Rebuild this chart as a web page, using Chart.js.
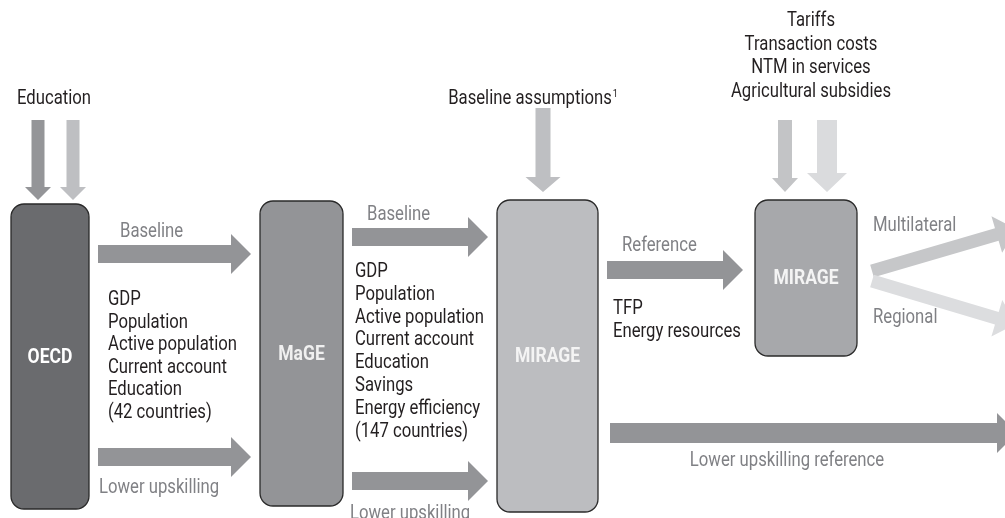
<!DOCTYPE html>
<html>
<head>
<meta charset="utf-8">
<script src="https://cdn.jsdelivr.net/npm/chart.js@4/dist/chart.umd.min.js"></script>
<style>
  html, body { margin: 0; padding: 0; background: #fff; }
  #wrap { position: relative; width: 1005px; height: 518px; }
</style>
</head>
<body>
<div id="wrap"><canvas id="flow-chart"></canvas></div>
<script>
// models (boxes) of the diagram
var models = ['OECD', 'MaGE', 'MIRAGE', 'MIRAGE'];

// inputs coming from the top
var educationInput = 'Education';
var baselineInput = 'Baseline assumptions';
var policyInputs = ['Tariffs', 'Transaction costs', 'NTM in services', 'Agricultural subsidies'];

// variables passed along the arrows
var oecdOutputs = ['GDP', 'Population', 'Active population', 'Current account', 'Education', '(42 countries)'];
var mageOutputs = ['GDP', 'Population', 'Active population', 'Current account', 'Education', 'Savings', 'Energy efficiency', '(147 countries)'];
var mirageOutputs = ['TFP', 'Energy resources'];

// arrow labels
var flowLabels = ['Baseline', 'Lower upskilling', 'Baseline', 'Lower upskilling', 'Reference', 'Multilateral', 'Regional', 'Lower upskilling reference'];

var FONT = 'Roboto, "Liberation Sans", sans-serif';

// layout, in scale units (x: 0..1005, y: 0..518 from top)
var boxes = [
    {x0: 11, x1: 89, y0: 204, y1: 509, fill: '#6a6b6e', text: '#ffffff'},
    {x0: 260, x1: 343, y0: 201, y1: 506, fill: '#939497', text: '#f0f0f0'},
    {x0: 497, x1: 598, y0: 200, y1: 512, fill: '#bcbdc0', text: '#f4f4f4'},
    {x0: 755, x1: 857, y0: 200, y1: 356, fill: '#a7a8ab', text: '#f4f4f4'}
];

var arrows = [
    // [x1, y1, x2, y2, shaft, headWidth, headLength, colour]
    [38, 120, 38, 200, 13, 26, 13, '#949598'],
    [73, 120, 73, 200, 13, 26, 13, '#bebfc2'],
    [543, 108, 543, 192, 15, 35, 15, '#bebfc2'],
    [785, 120, 785, 192, 14, 26, 14, '#c3c4c6'],
    [827, 120, 827, 192, 20, 40, 19, '#dadbdd'],
    [98, 254, 251, 254, 18, 40, 20, '#939497'],
    [98, 457, 251, 457, 18, 40, 20, '#939497'],
    [352, 237, 488, 237, 18, 40, 20, '#939497'],
    [352, 481, 488, 481, 18, 40, 20, '#939497'],
    [607, 270, 743, 270, 18, 40, 20, '#939497'],
    [610, 433, 1017, 433, 20, 40, 20, '#939497'],
    [872, 271, 1016, 229, 13, 38, 20, '#c6c7c9'],
    [872, 281, 1016, 324, 13, 38, 20, '#dcdddf']
];

var flowLabelPos = [
    [120, 232, 'left'], [99, 488, 'left'], [367, 215, 'left'], [350, 514, 'left'],
    [622, 246, 'left'], [873, 226, 'left'], [873, 318, 'left'], [787, 461, 'center']
];

var diagramPlugin = {
    id: 'diagram',
    afterDatasetsDraw: function(chart) {
        var ctx = chart.ctx;
        var sx = chart.scales.x, sy = chart.scales.y;
        var X = function(v){ return sx.getPixelForValue(v); };
        var Y = function(v){ return sy.getPixelForValue(v); };

        ctx.save();

        // arrows
        arrows.forEach(function(a){
            var x1 = X(a[0]), y1 = Y(a[1]), x2 = X(a[2]), y2 = Y(a[3]);
            var dx = x2 - x1, dy = y2 - y1, len = Math.sqrt(dx*dx + dy*dy);
            var ux = dx/len, uy = dy/len, nx = -uy, ny = ux;
            var s = a[4]/2, h = a[5]/2, hl = a[6];
            var bx = x2 - ux*hl, by = y2 - uy*hl;
            ctx.beginPath();
            ctx.moveTo(x1 + nx*s, y1 + ny*s);
            ctx.lineTo(bx + nx*s, by + ny*s);
            ctx.lineTo(bx + nx*h, by + ny*h);
            ctx.lineTo(x2, y2);
            ctx.lineTo(bx - nx*h, by - ny*h);
            ctx.lineTo(bx - nx*s, by - ny*s);
            ctx.lineTo(x1 - nx*s, y1 - ny*s);
            ctx.closePath();
            ctx.fillStyle = a[7];
            ctx.fill();
        });

        // condensed text: squeeze the font horizontally
        ctx.font = '20px ' + FONT;
        var k = 129 / ctx.measureText('Active population').width;
        function text(t, x, y, align) {
            ctx.save();
            ctx.translate(x, y);
            ctx.scale(k, 1);
            ctx.textAlign = align;
            ctx.textBaseline = 'middle';
            ctx.fillText(t, 0, 0);
            ctx.restore();
        }

        // boxes
        boxes.forEach(function(b, i){
            var x0 = X(b.x0), x1 = X(b.x1), y0 = Y(b.y0), y1 = Y(b.y1);
            ctx.beginPath();
            ctx.roundRect(x0, y0, x1 - x0, y1 - y0, 13);
            ctx.fillStyle = b.fill;
            ctx.fill();
            ctx.lineWidth = 1.3;
            ctx.strokeStyle = '#2a2a2a';
            ctx.stroke();
            ctx.fillStyle = b.text;
            ctx.font = 'bold 21px ' + FONT;
            text(models[i], (x0 + x1)/2, (y0 + y1)/2 + 1, 'center');
        });

        // black texts
        ctx.fillStyle = '#231f20';
        ctx.font = '20px ' + FONT;
        text(educationInput, X(54), Y(99), 'center');
        policyInputs.forEach(function(t, i){ text(t, X(811), Y(21 + i*23.5), 'center'); });
        var bw = ctx.measureText(baselineInput).width * k;
        text(baselineInput, X(530), Y(99), 'center');
        ctx.font = '11px ' + FONT;
        text('1', X(530) + bw/2 + 1, Y(94), 'left');

        ctx.font = '20px ' + FONT;
        oecdOutputs.forEach(function(t, i){ text(t, X(108), Y(300 + i*22.6), 'left'); });
        mageOutputs.forEach(function(t, i){ text(t, X(355), Y(272 + i*22.8), 'left'); });
        mirageOutputs.forEach(function(t, i){ text(t, X(613), Y(309 + i*23), 'left'); });

        // grey arrow labels
        ctx.fillStyle = '#808185';
        flowLabels.forEach(function(t, i){
            var p = flowLabelPos[i];
            text(t, X(p[0]), Y(p[1]), p[2]);
        });

        ctx.restore();
    }
};

var flowChart = new Chart(document.getElementById('flow-chart'), {
    type: 'scatter',
    data: {
        datasets: [{
            data: [],
            pointRadius: 0
        }]
    },
    options: {
        responsive: true,
        maintainAspectRatio: false,
        animation: false,
        layout: { padding: 0 },
        plugins: { legend: { display: false }, tooltip: { enabled: false } },
        scales: {
            x: { type: 'linear', min: 0, max: 1005, display: false },
            y: { type: 'linear', min: 0, max: 518, reverse: true, display: false }
        }
    },
    plugins: [diagramPlugin]
});
</script>
</body>
</html>
